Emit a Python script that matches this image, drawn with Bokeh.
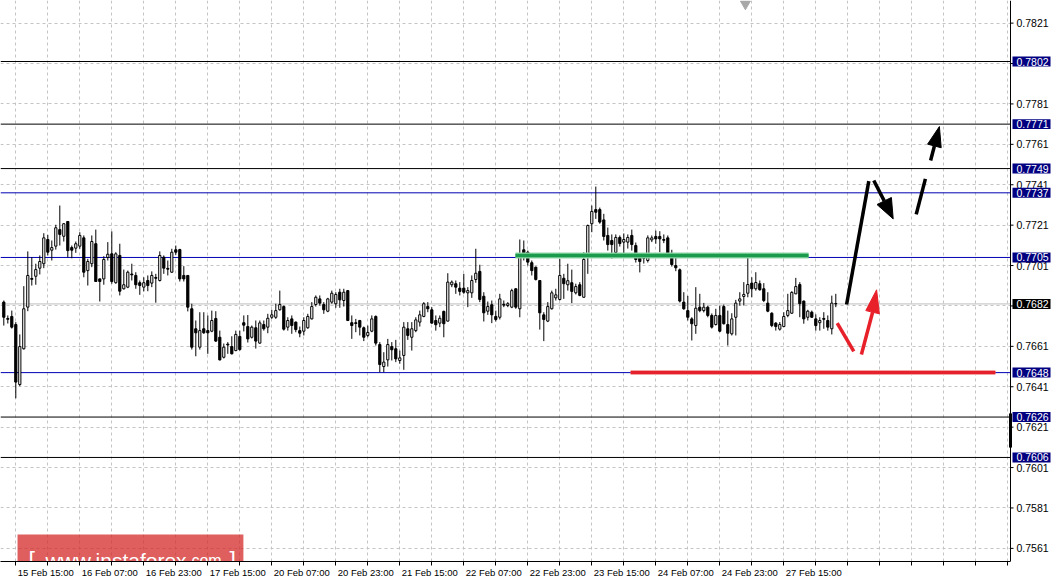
from bokeh.plotting import figure
from bokeh.models import ColumnDataSource, Range1d, FixedTicker, Span
from bokeh.core.properties import value
from bokeh.embed import file_html
from bokeh.resources import INLINE

FONT = "Liberation Sans"

# ---------------- data (hourly candles) ----------------
opens = [0.76829, 0.76748, 0.76758, 0.76718, 0.76421, 0.76598, 0.76804, 0.76946, 0.76957, 0.76997,
         0.77019, 0.77139, 0.77086, 0.77106, 0.77188, 0.77155, 0.77228, 0.77099, 0.77096, 0.77106,
         0.77147, 0.76985, 0.77019, 0.77118, 0.76944, 0.76944, 0.77050, 0.77068, 0.76925, 0.77060,
         0.76895, 0.76903, 0.76968, 0.76961, 0.76925, 0.76903, 0.76936, 0.76923, 0.76951, 0.76936,
         0.77051, 0.76996, 0.76977, 0.77088, 0.77089, 0.76961, 0.76961, 0.76796, 0.76697, 0.76606,
         0.76697, 0.76688, 0.76685, 0.76748, 0.76655, 0.76556, 0.76621, 0.76609, 0.76589, 0.76659,
         0.76727, 0.76708, 0.76655, 0.76702, 0.76626, 0.76718, 0.76705, 0.76754, 0.76754, 0.76791,
         0.76807, 0.76705, 0.76746, 0.76730, 0.76688, 0.76685, 0.76702, 0.76746, 0.76817, 0.76845,
         0.76817, 0.76784, 0.76829, 0.76821, 0.76878, 0.76837, 0.76886, 0.76727, 0.76727, 0.76738,
         0.76702, 0.76664, 0.76685, 0.76758, 0.76619, 0.76510, 0.76543, 0.76609, 0.76598, 0.76540,
         0.76565, 0.76697, 0.76655, 0.76688, 0.76730, 0.76758, 0.76807, 0.76791, 0.76738, 0.76725,
         0.76783, 0.76735, 0.76915, 0.76920, 0.76898, 0.76898, 0.76875, 0.76875, 0.76941, 0.76981,
         0.76858, 0.76784, 0.76816, 0.76758, 0.76754, 0.76818, 0.76812, 0.76804, 0.76895, 0.76796,
         0.77088, 0.77076, 0.77024, 0.77002, 0.76936, 0.76766, 0.76735, 0.76796, 0.76850, 0.76842,
         0.76947, 0.76915, 0.76925, 0.76875, 0.76915, 0.76853, 0.77050, 0.77217, 0.77287, 0.77287,
         0.77236, 0.77159, 0.77134, 0.77075, 0.77149, 0.77126, 0.77126, 0.77159, 0.77109, 0.77050,
         0.77050, 0.77035, 0.77137, 0.77154, 0.77154, 0.77139, 0.77147, 0.77051, 0.77010, 0.76989,
         0.76829, 0.76787, 0.76746, 0.76713, 0.76804, 0.76787, 0.76804, 0.76763, 0.76718, 0.76763,
         0.76807, 0.76718, 0.76672, 0.76754, 0.76834, 0.76857, 0.76873, 0.76923, 0.76895, 0.76920,
         0.76895, 0.76824, 0.76774, 0.76725, 0.76695, 0.76708, 0.76763, 0.76774, 0.76870, 0.76916,
         0.76834, 0.76754, 0.76779, 0.76746, 0.76727, 0.76748, 0.76738, 0.76697, 0.76822]

highs = [0.76837, 0.76763, 0.76787, 0.76730, 0.76669, 0.76908, 0.77080, 0.77051, 0.77019, 0.77060,
         0.77170, 0.77162, 0.77134, 0.77212, 0.77307, 0.77220, 0.77230, 0.77109, 0.77129, 0.77175,
         0.77159, 0.77043, 0.77159, 0.77188, 0.76946, 0.77056, 0.77126, 0.77179, 0.77076, 0.77118,
         0.76990, 0.76985, 0.77019, 0.76977, 0.76936, 0.76952, 0.76961, 0.76981, 0.76969, 0.77080,
         0.77060, 0.77035, 0.77093, 0.77109, 0.77093, 0.77007, 0.76963, 0.76821, 0.76738, 0.76779,
         0.76779, 0.76763, 0.76787, 0.76784, 0.76688, 0.76624, 0.76631, 0.76660, 0.76688, 0.76688,
         0.76763, 0.76765, 0.76713, 0.76738, 0.76738, 0.76738, 0.76771, 0.76791, 0.76821, 0.76886,
         0.76812, 0.76754, 0.76763, 0.76733, 0.76708, 0.76754, 0.76771, 0.76829, 0.76862, 0.76862,
         0.76829, 0.76850, 0.76886, 0.76878, 0.76895, 0.76895, 0.76889, 0.76763, 0.76746, 0.76741,
         0.76708, 0.76713, 0.76763, 0.76763, 0.76631, 0.76581, 0.76647, 0.76631, 0.76642, 0.76589,
         0.76730, 0.76730, 0.76730, 0.76754, 0.76787, 0.76829, 0.76829, 0.76804, 0.76763, 0.76763,
         0.76787, 0.76972, 0.76936, 0.76936, 0.76928, 0.76969, 0.76903, 0.76961, 0.77093, 0.77014,
         0.76878, 0.76832, 0.76837, 0.76787, 0.76870, 0.76837, 0.76829, 0.76895, 0.76897, 0.77139,
         0.77134, 0.77084, 0.77035, 0.77005, 0.76938, 0.76779, 0.76829, 0.76886, 0.76895, 0.77043,
         0.76969, 0.77019, 0.76990, 0.76920, 0.76928, 0.77076, 0.77213, 0.77307, 0.77401, 0.77297,
         0.77266, 0.77198, 0.77164, 0.77164, 0.77159, 0.77169, 0.77164, 0.77188, 0.77124, 0.77065,
         0.77065, 0.77159, 0.77159, 0.77183, 0.77180, 0.77164, 0.77159, 0.77088, 0.77068, 0.76995,
         0.76878, 0.76860, 0.76754, 0.76903, 0.76870, 0.76825, 0.76812, 0.76773, 0.76796, 0.76812,
         0.76817, 0.76787, 0.76774, 0.76840, 0.76878, 0.76928, 0.77068, 0.76952, 0.76977, 0.76936,
         0.76923, 0.76878, 0.76779, 0.76730, 0.76730, 0.76779, 0.76870, 0.76883, 0.76949, 0.76928,
         0.76837, 0.76791, 0.76787, 0.76768, 0.76754, 0.76779, 0.76763, 0.76861, 0.76870]

lows = [0.76713, 0.76723, 0.76698, 0.76353, 0.76413, 0.76594, 0.76784, 0.76911, 0.76915, 0.76966,
        0.76997, 0.77060, 0.77035, 0.77089, 0.77109, 0.77129, 0.77051, 0.77046, 0.77073, 0.77093,
        0.76952, 0.76911, 0.77002, 0.76929, 0.76832, 0.76915, 0.77035, 0.76920, 0.76920, 0.76862,
        0.76891, 0.76898, 0.76936, 0.76895, 0.76865, 0.76882, 0.76883, 0.76903, 0.76826, 0.76931,
        0.76969, 0.76961, 0.76974, 0.77063, 0.76931, 0.76931, 0.76783, 0.76594, 0.76561, 0.76594,
        0.76672, 0.76573, 0.76680, 0.76632, 0.76540, 0.76550, 0.76573, 0.76570, 0.76586, 0.76589,
        0.76684, 0.76629, 0.76649, 0.76599, 0.76623, 0.76688, 0.76675, 0.76746, 0.76746, 0.76787,
        0.76688, 0.76688, 0.76672, 0.76680, 0.76655, 0.76664, 0.76697, 0.76743, 0.76807, 0.76812,
        0.76771, 0.76779, 0.76821, 0.76801, 0.76801, 0.76807, 0.76735, 0.76647, 0.76680, 0.76664,
        0.76636, 0.76655, 0.76680, 0.76614, 0.76482, 0.76482, 0.76510, 0.76540, 0.76532, 0.76524,
        0.76494, 0.76642, 0.76589, 0.76680, 0.76708, 0.76754, 0.76779, 0.76722, 0.76688, 0.76705,
        0.76655, 0.76733, 0.76903, 0.76870, 0.76862, 0.76870, 0.76804, 0.76850, 0.76925, 0.76829,
        0.76733, 0.76766, 0.76725, 0.76733, 0.76743, 0.76804, 0.76804, 0.76799, 0.76796, 0.76754,
        0.77035, 0.77010, 0.76961, 0.76936, 0.76693, 0.76636, 0.76730, 0.76792, 0.76837, 0.76837,
        0.76845, 0.76886, 0.76824, 0.76867, 0.76858, 0.76850, 0.76969, 0.77175, 0.77241, 0.77217,
        0.77134, 0.77084, 0.77045, 0.77060, 0.77104, 0.77060, 0.77094, 0.77084, 0.77025, 0.76976,
        0.77020, 0.77025, 0.77126, 0.77118, 0.77076, 0.77121, 0.77055, 0.77005, 0.76982, 0.76827,
        0.76791, 0.76738, 0.76639, 0.76672, 0.76779, 0.76778, 0.76754, 0.76698, 0.76713, 0.76680,
        0.76718, 0.76614, 0.76664, 0.76664, 0.76812, 0.76812, 0.76853, 0.76853, 0.76886, 0.76886,
        0.76829, 0.76779, 0.76705, 0.76688, 0.76688, 0.76705, 0.76754, 0.76771, 0.76868, 0.76754,
        0.76722, 0.76738, 0.76751, 0.76688, 0.76688, 0.76697, 0.76688, 0.76669, 0.76804]

closes = [0.76754, 0.76744, 0.76705, 0.76433, 0.76609, 0.76796, 0.76961, 0.76942, 0.76990, 0.77030,
          0.77147, 0.77076, 0.77099, 0.77197, 0.77164, 0.77217, 0.77084, 0.77086, 0.77118, 0.77159,
          0.76977, 0.77030, 0.77129, 0.76931, 0.76931, 0.77040, 0.77066, 0.76931, 0.77068, 0.76883,
          0.76915, 0.76977, 0.76964, 0.76915, 0.76911, 0.76925, 0.76911, 0.76961, 0.76947, 0.77060,
          0.76997, 0.76992, 0.77076, 0.77076, 0.76944, 0.76944, 0.76804, 0.76606, 0.76677, 0.76688,
          0.76677, 0.76677, 0.76738, 0.76636, 0.76543, 0.76606, 0.76617, 0.76573, 0.76669, 0.76594,
          0.76715, 0.76647, 0.76705, 0.76636, 0.76726, 0.76697, 0.76749, 0.76766, 0.76787, 0.76817,
          0.76695, 0.76738, 0.76713, 0.76693, 0.76675, 0.76738, 0.76758, 0.76807, 0.76853, 0.76824,
          0.76791, 0.76845, 0.76873, 0.76867, 0.76840, 0.76878, 0.76738, 0.76713, 0.76723, 0.76705,
          0.76655, 0.76679, 0.76746, 0.76626, 0.76520, 0.76532, 0.76619, 0.76593, 0.76548, 0.76553,
          0.76705, 0.76664, 0.76697, 0.76741, 0.76766, 0.76821, 0.76796, 0.76725, 0.76717, 0.76749,
          0.76722, 0.76928, 0.76928, 0.76903, 0.76882, 0.76878, 0.76886, 0.76936, 0.76972, 0.76842,
          0.76776, 0.76807, 0.76766, 0.76743, 0.76845, 0.76814, 0.76821, 0.76886, 0.76804, 0.77055,
          0.77063, 0.77027, 0.76985, 0.76941, 0.76776, 0.76743, 0.76807, 0.76875, 0.76865, 0.76961,
          0.76920, 0.76935, 0.76882, 0.76906, 0.76862, 0.77040, 0.77208, 0.77278, 0.77274, 0.77225,
          0.77154, 0.77114, 0.77114, 0.77149, 0.77119, 0.77139, 0.77149, 0.77114, 0.77040, 0.77030,
          0.77046, 0.77147, 0.77147, 0.77142, 0.77142, 0.77135, 0.77065, 0.77015, 0.76999, 0.76834,
          0.76796, 0.76754, 0.76722, 0.76799, 0.76787, 0.76804, 0.76763, 0.76705, 0.76763, 0.76685,
          0.76722, 0.76675, 0.76746, 0.76824, 0.76845, 0.76867, 0.76916, 0.76895, 0.76926, 0.76890,
          0.76837, 0.76784, 0.76713, 0.76708, 0.76718, 0.76758, 0.76787, 0.76877, 0.76906, 0.76821,
          0.76746, 0.76784, 0.76754, 0.76713, 0.76738, 0.76744, 0.76705, 0.76824, 0.76820]

candle_index = list(range(len(opens)))

# time axis (one slot per hourly candle)
x_tick_index = [3, 19, 35, 51, 67, 83, 99, 115, 131, 147, 163, 179, 195]
x_tick_labels = ["15 Feb 15:00", "16 Feb 07:00", "16 Feb 23:00", "17 Feb 15:00",
                 "20 Feb 07:00", "20 Feb 23:00", "21 Feb 15:00", "22 Feb 07:00",
                 "22 Feb 23:00", "23 Feb 15:00", "24 Feb 07:00", "24 Feb 23:00",
                 "27 Feb 15:00"]
x_minor_index = [11, 27, 43, 59, 75, 91, 107, 123, 139, 155, 171, 187,
                 203, 211, 219, 227, 235, 243, 251]

# price scale
price_ticks = [0.7561, 0.7581, 0.7601, 0.7621, 0.7641, 0.7661, 0.7681,
               0.7701, 0.7721, 0.7741, 0.7761, 0.7781, 0.7801, 0.7821]
hidden_price_ticks = [0.7681, 0.7801]

# horizontal levels
level_prices = [0.7802, 0.7771, 0.7749, 0.7737, 0.7705, 0.7648, 0.7626, 0.7606]
level_colors = ["#000000", "#000000", "#000000", "#0000b4", "#0000b4", "#0000b4", "#000000", "#000000"]
current_price = 0.7682
spread_bar = [0.76278, 0.76109]

# hand-drawn analysis marks (candle slot, price)
green_x = [127.9, 201.2]
green_y = [0.77060, 0.77060]
red_level_x = [156.7, 247.9]
red_level_y = [0.76481, 0.76481]
red_path1_x = [208.35, 212.5]
red_path1_y = [0.76725, 0.76585]
red_path2_x = [214.4, 217.2]
red_path2_y = [0.76570, 0.76779]
red_head_x = [218.2, 215.5, 218.9]
red_head_y = [0.76890, 0.76787, 0.76771]
black_path1_x = [210.7, 216.25]
black_path1_y = [0.76817, 0.77428]
black_path2_x = [217.5, 220.1]
black_path2_y = [0.77431, 0.77330]
black_head1_x = [222.35, 218.3, 221.9]
black_head1_y = [0.77241, 0.77312, 0.77347]
black_path3_x = [228.1, 230.4]
black_path3_y = [0.77263, 0.77439]
black_path4_x = [231.7, 232.65]
black_path4_y = [0.77530, 0.77602]
black_head2_x = [233.9, 230.95, 234.35]
black_head2_y = [0.77698, 0.77611, 0.77593]

shift_marker_x = [185.4]
shift_marker_y = [0.78305]

# ---------------- layout constants (slot units / price units) ----------------
X_START, X_END = -0.825, 262.675     # the frame also holds the price scale strip
AXIS_X = 251.675                     # price scale line
TICK_END = 252.425
LABEL_X = 253.175
BOX_LEFT, BOX_RIGHT = 252.175, 261.675
BOX_HALF = 0.000247
LABEL_SHIFT = 7.5                    # time labels start just right of their tick

p = figure(width=1054, height=585, output_backend="svg", toolbar_location=None,
           x_range=Range1d(X_START, X_END), y_range=Range1d(0.75545, 0.78322),
           y_axis_location=None,
           min_border_left=0, min_border_top=0, min_border_right=0, min_border_bottom=24)
p.outline_line_color = None
p.background_fill_color = "white"
p.border_fill_color = "white"

# time axis: labels sit at label_pos, tick marks are drawn as the minor ticks
label_pos = [t + LABEL_SHIFT for t in x_tick_index]
tick_marks = sorted(x_tick_index + x_minor_index)
xa = p.xaxis[0]
xa.ticker = FixedTicker(ticks=label_pos, minor_ticks=tick_marks)
xa.major_label_overrides = {v: t for v, t in zip(label_pos, x_tick_labels)}
xa.bounds = (X_START, AXIS_X)
xa.axis_line_color = "black"
xa.major_tick_line_color = None
xa.major_tick_in = 0
xa.major_tick_out = 4
xa.minor_tick_line_color = "black"
xa.minor_tick_in = 0
xa.minor_tick_out = 4
xa.major_label_standoff = 1
xa.major_label_text_font = FONT
xa.major_label_text_font_size = "9.5px"
xa.major_label_text_color = "black"

# grid (vertical lines on every tick mark)
p.xgrid[0].grid_line_color = None
p.xgrid[0].minor_grid_line_color = "#c4c4c4"
p.xgrid[0].minor_grid_line_dash = "3 3"
p.ygrid[0].ticker = FixedTicker(ticks=price_ticks)
p.ygrid[0].grid_line_color = "#c4c4c4"
p.ygrid[0].grid_line_dash = "3 3"

# level lines (stop at the price scale)
for lv, col in zip(level_prices, level_colors):
    p.segment(x0=[X_START], y0=[lv], x1=[AXIS_X], y1=[lv], line_color=col, line_width=1)
p.segment(x0=[X_START], y0=[current_price], x1=[AXIS_X], y1=[current_price],
          line_color="#bdbdbd", line_width=1)

# candles
src = ColumnDataSource(dict(
    x=candle_index, open=opens, high=highs, low=lows, close=closes,
    top=[max(o, c) for o, c in zip(opens, closes)],
    bottom=[min(o, c) for o, c in zip(opens, closes)],
    fill=["white" if c > o else "black" for o, c in zip(opens, closes)],
))
p.segment(x0="x", y0="low", x1="x", y1="high", source=src, line_color="black", line_width=1)
p.vbar(x="x", width=0.55, top="top", bottom="bottom", fill_color="fill",
       line_color="black", line_width=1, source=src)

# analysis marks
p.line(green_x, green_y, line_color="#8fd6a4", line_width=6)
p.line(green_x, green_y, line_color="#1a9a4c", line_width=3.5)
p.line(red_level_x, red_level_y, line_color="#f2a3a3", line_width=5)
p.line(red_level_x, red_level_y, line_color="#e5222b", line_width=3)

p.line(red_path1_x, red_path1_y, line_color="#e8202a", line_width=3.5)
p.line(red_path2_x, red_path2_y, line_color="#e8202a", line_width=3.5)
p.patch(red_head_x, red_head_y, fill_color="#e8202a", line_color="#e8202a", line_width=1)

p.line(black_path1_x, black_path1_y, line_color="black", line_width=3.5)
p.line(black_path2_x, black_path2_y, line_color="black", line_width=3.5)
p.patch(black_head1_x, black_head1_y, fill_color="black", line_color="black", line_width=1)
p.line(black_path3_x, black_path3_y, line_color="black", line_width=3.5)
p.line(black_path4_x, black_path4_y, line_color="black", line_width=3.5)
p.patch(black_head2_x, black_head2_y, fill_color="black", line_color="black", line_width=1)

p.scatter(shift_marker_x, shift_marker_y, marker="inverted_triangle", size=10,
          fill_color="#a8a8a8", line_color="#a8a8a8")

# watermark
p.quad(left=[3.43], right=[59.9], bottom=[0.7545], top=[0.75679],
       fill_color="#d42a2a", fill_alpha=0.75, line_color=None)
p.text(x=[6.2, 10.4, 46.9, 56.4], y=[0.75549, 0.75549, 0.75549, 0.75549],
       text=["[", "www.instaforex", "com", "]"],
       text_font=value(FONT), text_font_size=["23px", "21px", "16px", "23px"],
       text_color="white", text_align="left", text_baseline="alphabetic")

# price scale (drawn inside the frame, on a white strip)
p.quad(left=[AXIS_X], right=[X_END + 1], bottom=[0.7], top=[0.8],
       fill_color="white", line_color=None)
p.add_layout(Span(location=AXIS_X, dimension="height", line_color="black", line_width=1))
p.segment(x0=[AXIS_X], y0=[spread_bar[0]], x1=[AXIS_X], y1=[spread_bar[1]],
          line_color="black", line_width=3)
p.segment(x0=[AXIS_X] * len(price_ticks), y0=price_ticks,
          x1=[TICK_END] * len(price_ticks), y1=price_ticks, line_color="black", line_width=1)
shown = [v for v in price_ticks if v not in hidden_price_ticks]
p.text(x=[LABEL_X] * len(shown), y=shown, text=[f"{v:.4f}" for v in shown],
       text_font=value(FONT), text_font_size="10.5px", text_color="black",
       text_align="left", text_baseline="middle")

box_prices = level_prices + [current_price]
box_colors = ["#000080"] * len(level_prices) + ["#000000"]
p.quad(left=[BOX_LEFT] * len(box_prices), right=[BOX_RIGHT] * len(box_prices),
       bottom=[v - BOX_HALF for v in box_prices], top=[v + BOX_HALF for v in box_prices],
       fill_color=box_colors, line_color=None)
p.text(x=[LABEL_X] * len(box_prices), y=box_prices, text=[f"{v:.4f}" for v in box_prices],
       text_font=value(FONT), text_font_size="10.5px", text_color="white",
       text_align="left", text_baseline="middle")

open("out.html", "w").write(file_html(p, INLINE))
